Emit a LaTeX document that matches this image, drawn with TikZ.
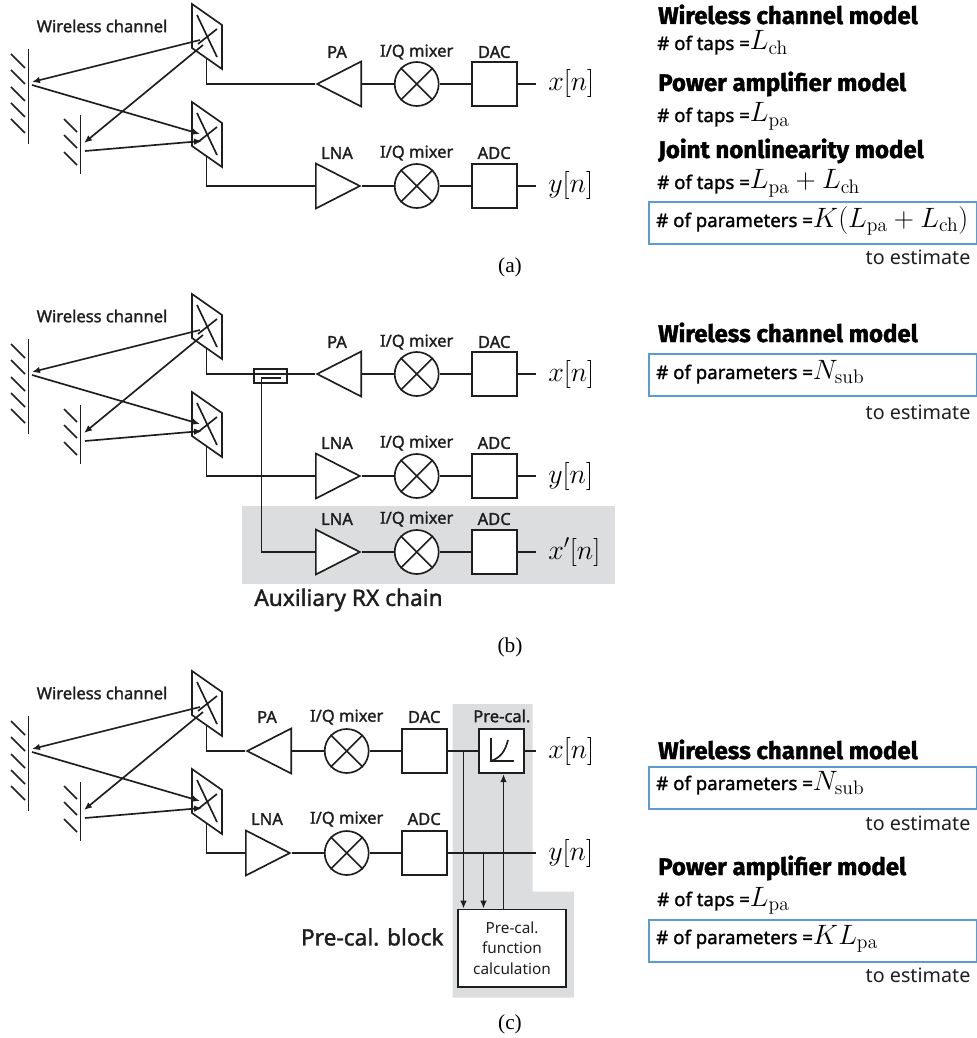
\documentclass[tikz,border=0pt]{standalone}
\usepackage{amsmath}
\usepackage[no-math]{fontspec}
\usepackage{fix-cm}
\setmainfont{Noto Sans}
\newfontfamily\labelfont[FakeBold=1.5]{Noto Sans}
\newfontfamily\headfont[BoldFeatures={FakeBold=1.5}]{Fira Sans}
\newfontfamily\capfont{Liberation Serif}
\usetikzlibrary{shapes.geometric, arrows.meta, positioning, calc}
\definecolor{panelgray}{RGB}{220,221,223}
\definecolor{paramblue}{RGB}{91,155,213}
\definecolor{inkblack}{RGB}{30,30,30}
\newcommand{\modelsym}[1]{{\fontsize{21}{24}\selectfont$#1$}}
\tikzset{
    wire/.style={line width=1.25pt,draw=inkblack},
    sig/.style={wire,-{Latex[length=6pt,width=5pt]}},
    block/.style={rectangle,draw=inkblack,fill=white,line width=1.25pt,minimum width=33.75pt,minimum height=33.4pt,inner sep=0pt},
    mixer/.style={circle,draw=inkblack,fill=white,line width=1.25pt,minimum size=33pt,inner sep=0pt},
    amp/.style={isosceles triangle,isosceles triangle stretches,draw=inkblack,fill=white,line width=1.25pt,minimum width=33.75pt,minimum height=33pt,inner sep=0pt},
    lab/.style={font=\labelfont\fontsize{12.4}{14}\selectfont,text=inkblack,inner sep=0pt},
    biglab/.style={font=\labelfont\fontsize{17}{19}\selectfont,text=inkblack,inner sep=0pt},
    sigout/.style={font=\fontsize{21}{24}\selectfont,inner sep=0pt},
    heading/.style={font=\headfont\bfseries\fontsize{18}{20}\selectfont,anchor=base west,inner sep=0pt},
    paramline/.style={font=\labelfont\fontsize{14}{16}\selectfont,anchor=base west,inner sep=0pt},
    parambox/.style={rectangle,draw=paramblue,line width=1.5pt,fill=white,inner sep=0pt,anchor=north west,minimum width=246pt,minimum height=31.5pt},
    estim/.style={font=\fontsize{14.8}{17}\selectfont,anchor=base east,inner sep=0pt,text=inkblack},
    capt/.style={font=\capfont\fontsize{16}{18}\selectfont,inner sep=0pt}
}

\begin{document}
\begin{tikzpicture}[x=0.75pt,y=-0.75pt]
    \useasboundingbox (0,0) rectangle (977,1038);

    % Gray areas
    \path[fill=panelgray] (242,506) rectangle (615,584);
    \path[fill=panelgray] (452.7,704) -- (532.7,704) -- (532.7,891.7) -- (574,891.7) -- (574,997.7) -- (452.7,997.7) -- cycle;

    % RF chains
    \foreach \id/\xo/\yo/\amplab/\rot/\ain/\aout/\conv/\ly in {
        ax/0/84/PA/180/apex/lower side/DAC/32,
        ay/0/186/LNA/0/lower side/apex/ADC/33,
        bx/0/374/PA/180/apex/lower side/DAC/32,
        by/0/476/LNA/0/lower side/apex/ADC/33,
        bz/0/552/LNA/0/lower side/apex/ADC/33,
        cx/-70/751/PA/180/apex/lower side/DAC/34,
        cy/-70/853/LNA/0/lower side/apex/ADC/34} {
        \node[mixer] (mix\id) at (416.7+\xo,\yo) {};
        \node[block] (conv\id) at (494.2+\xo,\yo) {};
        \node[amp,shape border rotate=\rot,anchor=\ain] (amp\id) at (315+\xo,\yo) {};
        \draw[wire] (mix\id.45) -- (mix\id.225) (mix\id.135) -- (mix\id.315);
        \draw[wire] (amp\id.\aout) -- (mix\id.west);
        \draw[wire] (mix\id.east) -- (conv\id.west);
        \node[lab] (amplab\id) at (337+\xo,\yo-\ly) {\amplab};
        \node[lab] (mixlab\id) at (416.7+\xo,\yo-\ly) {I/Q mixer};
        \node[lab] (convlab\id) at (494.2+\xo,\yo-\ly) {\conv};
    }

    % Antennas, reflectors, channel paths
    \foreach \p/\yo in {a/0,b/290,c/667} {
        \node[lab] (wl\p) at (102,26+\yo) {Wireless channel};
        \foreach \n/\yy in {1/0,2/98} {
            \draw[wire] (192,4+\yy+\yo) -- (222,25+\yy+\yo) -- (222,69+\yy+\yo) -- (192,48+\yy+\yo) -- cycle;
            \draw[wire] (197,15+\yy+\yo) -- (217,57+\yy+\yo);
            \draw[wire] (217,29+\yy+\yo) -- (198,44+\yy+\yo);
            \coordinate (feed\p\n) at (206.5,58+\yy+\yo);
        }
        \draw[wire] (28.5,49+\yo) -- (28.5,144+\yo);
        \foreach \hy in {54,70,87,103,119} \draw[wire] (11,\hy+\yo) -- (25,\hy+14+\yo);
        \draw[wire] (80.5,115+\yo) -- (80.5,174+\yo);
        \foreach \hy in {119,135,152} \draw[wire] (64,\hy+\yo) -- (77,\hy+13+\yo);
        \coordinate (tx\p) at (200,40+\yo);
        \coordinate (rbig\p) at (32,82+\yo);
        \coordinate (rbigout\p) at (32,85+\yo);
        \coordinate (rx\p) at (200,134+\yo);
        \coordinate (txs\p) at (203,45+\yo);
        \coordinate (rsm\p) at (84,143+\yo);
        \coordinate (rsmout\p) at (85,151+\yo);
        \coordinate (rxs\p) at (202,141+\yo);
        \draw[sig] (tx\p) -- (rbig\p);
        \draw[sig] (rbigout\p) -- (rx\p);
        \draw[sig] (txs\p) -- (rsm\p);
        \draw[sig] (rsmout\p) -- (rxs\p);
    }

    % Feeds from antennas
    \draw[wire] (feeda1) |- (ampax.apex);
    \draw[wire] (feeda2) |- (ampay.lower side);
    \draw[wire] (feedb1) |- (ampbx.apex);
    \draw[wire] (feedb2) |- (ampby.lower side);
    \draw[wire] (feedc1) |- (ampcx.apex);
    \draw[wire] (feedc2) |- (ampcy.lower side);

    % Outputs
    \foreach \id/\txt/\yo in {ax/x[n]/84,ay/y[n]/186,bx/x[n]/374,by/y[n]/476,bz/x'[n]/552,cx/x[n]/751,cy/y[n]/853} {
        \coordinate (end\id) at (536,\yo);
        \node[sigout,anchor=west] (out\id) at (548,\yo) {$\txt$};
    }
    \draw[wire] (convax) -- (endax);
    \draw[wire] (convay) -- (enday);
    \draw[wire] (convbx) -- (endbx);
    \draw[wire] (convby) -- (endby);
    \draw[wire] (convbz) -- (endbz);
    \draw[wire] (convcy) -- (endcy);

    % Coupler
    \node[rectangle,draw=inkblack,line width=1.25pt,minimum width=24.75pt,minimum height=10.5pt,inner sep=0pt] (coupler) at (270.5,376) {};
    \coordinate (couptap) at (280.7,377.7);
    \coordinate (coupturn) at (261.5,377.7);
    \draw[wire] (couptap) -- (coupturn) |- (ampbz.lower side);

    % Pre-cal block
    \node[block] (precal) at (501.8,751) {};
    \node[lab] (precallab) at (501.8,716) {Pre-cal.};
    \draw[wire] (490.7,738) -- (490.7,761) -- (514,761);
    \draw[wire] (490.7,761) .. controls (500,758) and (505,752) .. (508,740);
    \node[rectangle,draw=inkblack,fill=white,line width=1.25pt,minimum width=81.4pt,minimum height=58.2pt,inner sep=0pt,align=center,font=\fontsize{11.5}{15.5}\selectfont,text=inkblack] (calc) at (512,948.2) {Pre-cal.\\function\\calculation};
    \node[biglab] (blocklab) at (372.3,937) {Pre-cal. block};
    \draw[wire] (convcx) -- (precal);
    \draw[wire] (precal) -- (endcx);
    \coordinate (tapx) at (463.5,751);
    \coordinate (tapy) at (483.5,853);
    \coordinate (fbk) at (503.5,800);
    \draw[sig] (tapx) -- (tapx |- calc.north);
    \draw[sig] (tapy) -- (tapy |- calc.north);
    \draw[sig] (fbk |- calc.north) -- (fbk |- precal.south);

    % Auxiliary chain label
    \node[biglab] (auxlab) at (348.5,600) {Auxiliary RX chain};

    % Captions
    \node[capt] (capa) at (510,267) {(a)};
    \node[capt] (capb) at (510,647) {(b)};
    \node[capt] (capc) at (510,1024) {(c)};

    % Panel a models
    \node[heading] (heada1) at (658,24) {Wireless channel model};
    \node[paramline] (tapa1) at (657,50) {\# of taps =\modelsym{L_{\mathrm{ch}}}};
    \node[heading] (heada2) at (658,91) {Power amplifier model};
    \node[paramline] (tapa2) at (657,122) {\# of taps =\modelsym{L_{\mathrm{pa}}}};
    \node[heading] (heada3) at (658,158) {Joint nonlinearity model};
    \node[paramline] (tapa3) at (657,189) {\# of taps =\modelsym{L_{\mathrm{pa}}+L_{\mathrm{ch}}}};
    \node[parambox] (boxa) at (647.5,201) {};
    \node[paramline] (para) at (656,227) {\# of parameters =\modelsym{K(L_{\mathrm{pa}}+L_{\mathrm{ch}})}};
    \node[estim] (esta) at (970.7,264) {to estimate};

    % Panel b models
    \node[heading] (headb1) at (658,342) {Wireless channel model};
    \node[parambox] (boxb) at (647.5,353) {};
    \node[paramline] (parb) at (656,379) {\# of parameters =\modelsym{N_{\mathrm{sub}}}};
    \node[estim] (estb) at (970.7,419) {to estimate};

    % Panel c models
    \node[heading] (headc1) at (658,759) {Wireless channel model};
    \node[parambox] (boxc1) at (647.5,766) {};
    \node[paramline] (parc1) at (656,790) {\# of parameters =\modelsym{N_{\mathrm{sub}}}};
    \node[estim] (estc1) at (970.7,830) {to estimate};
    \node[heading] (headc2) at (658,875) {Power amplifier model};
    \node[paramline] (tapc2) at (657,906) {\# of taps =\modelsym{L_{\mathrm{pa}}}};
    \node[parambox] (boxc2) at (647.5,919) {};
    \node[paramline] (parc2) at (656,944) {\# of parameters =\modelsym{KL_{\mathrm{pa}}}};
    \node[estim] (estc2) at (970.7,982) {to estimate};
\end{tikzpicture}
\end{document}
